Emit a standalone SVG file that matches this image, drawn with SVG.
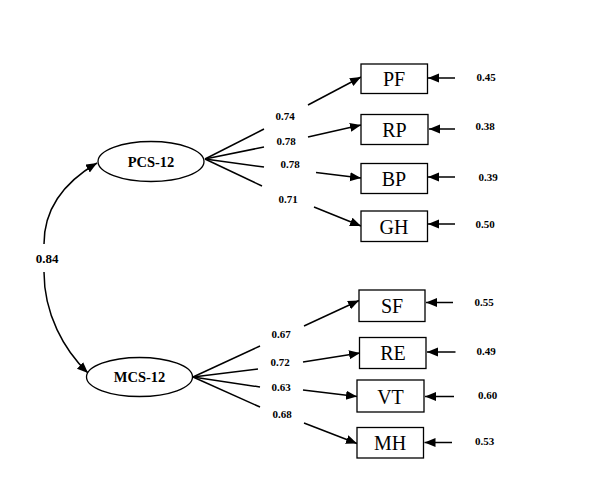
<svg xmlns="http://www.w3.org/2000/svg" width="600" height="491" viewBox="0 0 600 491">
<defs>
<marker id="ah" markerUnits="userSpaceOnUse" markerWidth="12" markerHeight="10" refX="11" refY="4.5" orient="auto">
<path d="M0,0 L11,4.5 L0,9 Z" fill="#000"/>
</marker>
</defs>
<style>
.node rect,.node ellipse{fill:#fff;stroke:#000;stroke-width:1.3}
.box{font-family:"Liberation Serif",serif;font-size:20px;text-anchor:middle}
.lat{font-family:"Liberation Serif",serif;font-size:14.5px;font-weight:bold;text-anchor:middle}
.num{font-family:"Liberation Serif",serif;font-size:11px;font-weight:bold;text-anchor:middle}
.edges path,.edges line{stroke:#000;stroke-width:1.5;fill:none}
.arr{marker-end:url(#ah)}
</style>
<rect width="600" height="491" fill="#fff"/>
<g class="edges">
<path class="arr" d="M44 244 C44 206 68 180 97 163"/>
<path class="arr" d="M44 272 C44 314 64 350 88 373"/>
<line x1="205" y1="159" x2="264" y2="129"/>
<line x1="205" y1="159" x2="264" y2="147"/>
<line x1="205" y1="159" x2="264" y2="167"/>
<line x1="205" y1="159" x2="262" y2="186"/>
<line class="arr" x1="308" y1="105" x2="361" y2="77"/>
<line class="arr" x1="308" y1="137" x2="361" y2="125"/>
<line class="arr" x1="316" y1="172.5" x2="361" y2="178"/>
<line class="arr" x1="314" y1="207" x2="361" y2="226"/>
<line x1="193" y1="377" x2="260" y2="346"/>
<line x1="193" y1="377" x2="258" y2="369"/>
<line x1="193" y1="377" x2="260" y2="387"/>
<line x1="193" y1="377" x2="260" y2="407"/>
<line class="arr" x1="304" y1="326" x2="359" y2="300.5"/>
<line class="arr" x1="303" y1="362" x2="360" y2="353"/>
<line class="arr" x1="303" y1="390" x2="357" y2="396.5"/>
<line class="arr" x1="304" y1="423" x2="357" y2="443.5"/>
<line class="arr" x1="455" y1="78" x2="428" y2="78"/>
<line class="arr" x1="455" y1="129" x2="429" y2="129"/>
<line class="arr" x1="455" y1="177" x2="428" y2="177"/>
<line class="arr" x1="455" y1="224" x2="428" y2="224"/>
<line class="arr" x1="453" y1="302.5" x2="426" y2="302.5"/>
<line class="arr" x1="455.5" y1="352" x2="427" y2="352"/>
<line class="arr" x1="454" y1="396.5" x2="425" y2="396.5"/>
<line class="arr" x1="452" y1="442.5" x2="424.5" y2="442.5"/>
</g>
<g id="PCS" class="node"><ellipse cx="151" cy="161.5" rx="53" ry="20"/><text class="lat" x="151" y="166.5">PCS-12</text></g>
<g id="MCS" class="node"><ellipse cx="139.5" cy="377" rx="53" ry="19.5"/><text class="lat" x="139.5" y="382">MCS-12</text></g>
<g id="PF" class="node"><rect x="361" y="64" width="66.5" height="29.5"/><text class="box" x="394" y="86">PF</text></g>
<g id="RP" class="node"><rect x="361" y="114.5" width="67" height="30"/><text class="box" x="394.5" y="136.5">RP</text></g>
<g id="BP" class="node"><rect x="361" y="163.5" width="66.5" height="30"/><text class="box" x="394" y="185.5">BP</text></g>
<g id="GH" class="node"><rect x="361" y="211" width="66.5" height="30.5"/><text class="box" x="394" y="233.5">GH</text></g>
<g id="SF" class="node"><rect x="359" y="290" width="66" height="31.5"/><text class="box" x="392" y="312.5">SF</text></g>
<g id="RE" class="node"><rect x="359.5" y="337.5" width="66.5" height="31"/><text class="box" x="393" y="360">RE</text></g>
<g id="VT" class="node"><rect x="357" y="380" width="67" height="32"/><text class="box" x="390.5" y="403.5">VT</text></g>
<g id="MH" class="node"><rect x="357" y="427.5" width="66.5" height="30.5"/><text class="box" x="390" y="450">MH</text></g>
<g id="labels">
<text class="num" style="font-size:13px" x="47" y="263">0.84</text>
<text class="num" x="285" y="119.5">0.74</text>
<text class="num" x="286" y="144.5">0.78</text>
<text class="num" x="290" y="168">0.78</text>
<text class="num" x="288" y="203">0.71</text>
<text class="num" x="281" y="338">0.67</text>
<text class="num" x="280" y="365.5">0.72</text>
<text class="num" x="281" y="391">0.63</text>
<text class="num" x="282" y="417.5">0.68</text>
<text class="num" x="486" y="80.5">0.45</text>
<text class="num" x="485" y="130">0.38</text>
<text class="num" x="488" y="180.5">0.39</text>
<text class="num" x="485" y="227.5">0.50</text>
<text class="num" x="484" y="305.5">0.55</text>
<text class="num" x="486" y="354.5">0.49</text>
<text class="num" x="487.5" y="398.5">0.60</text>
<text class="num" x="484.5" y="445">0.53</text>
</g>
</svg>
